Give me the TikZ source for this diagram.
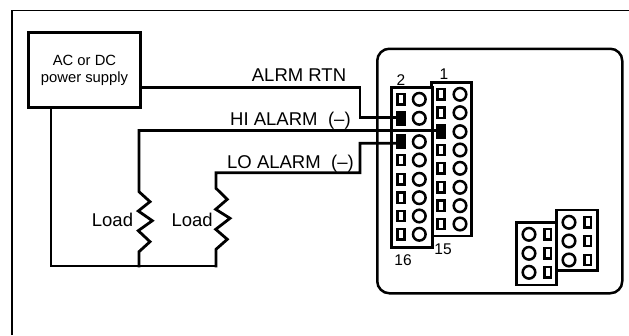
\documentclass[tikz,border=0pt]{standalone}
\usepackage{fontspec}
\setmainfont{Liberation Sans}
\tikzset{
  frameline/.style={line width=1.6pt,black},
  device/.style={draw,line width=2.5pt,rounded corners=12pt},
  psu/.style={draw,line width=3pt,minimum width=112pt,minimum height=75pt,inner sep=0pt,align=center,font=\fontsize{14.8}{17}\selectfont},
  wire/.style={line width=2.8pt,line cap=rect,line join=miter},
  block/.style={draw,line width=2.6pt,fill=white,inner sep=0pt},
  pinrect/.style={draw,line width=2.4pt,fill=white,minimum width=6.8pt,minimum height=10.2pt,inner sep=0pt},
  pinblack/.style={draw,line width=1pt,fill=black,minimum width=9pt,minimum height=14pt,inner sep=0pt},
  pincirc/.style={draw,line width=2.5pt,circle,fill=white,minimum size=12.6pt,inner sep=0pt},
  wlabel/.style={anchor=base west,inner sep=0pt,font=\fontsize{18.5}{20}\selectfont},
  pinlabel/.style={inner sep=0pt,font=\fontsize{15.5}{17}\selectfont},
}
\begin{document}
\begin{tikzpicture}[x=1pt,y=-1pt]
\useasboundingbox (0,0) rectangle (629,335);
\coordinate (fa) at (12,335);
\coordinate (fb) at (12,10.5);
\coordinate (fc) at (629,10.5);
\draw[frameline] (fa) -- (fb) -- (fc);
\node[device,minimum width=245pt,minimum height=244.5pt,anchor=north west] (dev) at (376,47.5) {};
\node[psu] (ps) at (84.5,70) {AC or DC\\power supply};
% main connector
\node[block,minimum width=40pt,minimum height=153.5pt] (blockR) at (451.7,159.2) {};
\node[block,minimum width=40.5pt,minimum height=159.5pt] (blockL) at (412,167.5) {};
\foreach \n/\y in {1/94.3,2/112.7,4/150,5/168.3,6/187.3,7/205.7,8/224}
  \node[pinrect] (r\n) at (441,\y) {};
\node[pinblack] (r3) at (441,131.5) {};
\foreach \n/\y in {1/94.3,2/112.7,3/131.7,4/150,5/168.3,6/187.3,7/205.7,8/224}
  \node[pincirc] (rc\n) at (460,\y) {};
\foreach \n/\y in {1/99.3,4/160,5/179.3,6/197.7,7/216,8/234.3}
  \node[pinrect] (l\n) at (401,\y) {};
\node[pinblack] (l2) at (401,118.2) {};
\node[pinblack] (l3) at (401,141.5) {};
\foreach \n/\y in {1/99.3,2/118.3,3/141.7,4/160,5/179.3,6/197.7,7/216,8/234.3}
  \node[pincirc] (lc\n) at (419.3,\y) {};
\node[pinlabel] (n2) at (401,80) {2};
\node[pinlabel,anchor=base] (n1) at (444,79) {1};
\node[pinlabel] (n15) at (443,249.5) {15};
\node[pinlabel] (n16) at (403,260.5) {16};
% small connector
\node[block,minimum width=41pt,minimum height=60.7pt] (smallR) at (577.2,240.3) {};
\node[block,minimum width=40pt,minimum height=62.3pt] (smallL) at (536.7,253.8) {};
\foreach \n/\y in {1/222.3,2/241,3/260}{
  \node[pincirc] (src\n) at (569,\y) {};
  \node[pinrect] (sr\n) at (587.7,\y) {};
}
\foreach \n/\y in {1/234.3,2/253.3,3/272.3}{
  \node[pincirc] (slc\n) at (529,\y) {};
  \node[pinrect] (sl\n) at (547.7,\y) {};
}
% wires
\coordinate (a1) at (360,87.5);
\coordinate (a2) at (360,117.8);
\draw[wire] (ps.east |- a1) -- (a1) -- (a2) -- (l2.west |- a2);
\coordinate (hc) at (139,130.5);
\coordinate (z10) at (139,191.7);
\coordinate (z11) at (150,201.7);
\coordinate (z12) at (138.3,211);
\coordinate (z13) at (152.3,220.7);
\coordinate (z14) at (138.3,230.7);
\coordinate (z15) at (150,241.7);
\coordinate (z16) at (139,251.7);
\coordinate (z17) at (139,266);
\draw[wire] (r3.west |- hc) -- (hc) -- (z10) -- (z11) -- (z12) -- (z13) -- (z14) -- (z15) -- (z16) -- (z17);
\coordinate (b1) at (360,143.3);
\coordinate (b2) at (360,172.7);
\coordinate (b3) at (216,172.7);
\coordinate (z20) at (216,188.3);
\coordinate (z21) at (227.3,199.3);
\coordinate (z22) at (215.7,209.3);
\coordinate (z23) at (230,218.3);
\coordinate (z24) at (215.7,229.3);
\coordinate (z25) at (227.3,239.3);
\coordinate (z26) at (216,249.3);
\coordinate (z27) at (216,266);
\draw[wire] (l3.west |- b1) -- (b1) -- (b2) -- (b3) -- (z20) -- (z21) -- (z22) -- (z23) -- (z24) -- (z25) -- (z26) -- (z27);
\coordinate (c1) at (51,266);
\draw[wire] (ps.south -| c1) -- (c1) -- (z27);
% labels
\node[wlabel] (t1) at (251.7,81.7) {ALRM RTN};
\node[wlabel] (t2) at (230,125) {HI ALARM\hspace{10.5pt}(–)};
\node[wlabel] (t3) at (227,168.3) {LO ALARM\hspace{10.5pt}(–)};
\node[wlabel] (t4) at (91.7,226) {Load};
\node[wlabel] (t5) at (171.3,226) {Load};
\end{tikzpicture}
\end{document}
